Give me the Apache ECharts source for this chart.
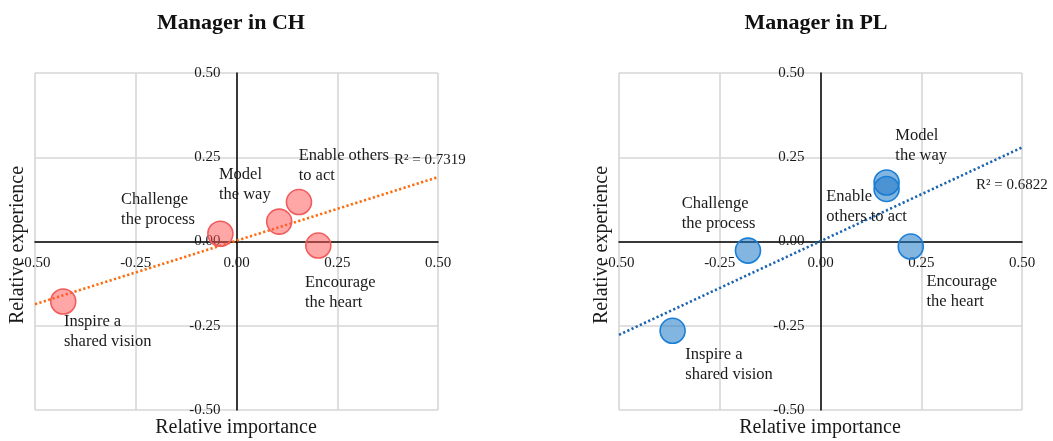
<!DOCTYPE html>
<html>
<head>
<meta charset="utf-8">
<script src="https://cdn.jsdelivr.net/npm/echarts@6/dist/echarts.min.js"></script>
<style>
  html, body { margin: 0; padding: 0; background: #fff; }
  #graph { width: 1053px; height: 441px; }
</style>
</head>
<body>
<div id="graph"></div>
<script>
// leadership practices
var practices = ['Challenge the process', 'Model the way', 'Enable others to act', 'Encourage the heart', 'Inspire a shared vision'];

// Manager in CH: [relative importance, relative experience]
var importanceCH = [-0.04, 0.106, 0.155, 0.203, -0.43];
var experienceCH = [0.023, 0.059, 0.117, -0.012, -0.178];
var trendCH = [[-0.5, -0.186], [0.5, 0.191]];
var r2CH = 'R² = 0.7319';

// Manager in PL
var importancePL = [-0.18, 0.164, 0.164, 0.224, -0.367];
var experiencePL = [-0.027, 0.175, 0.156, -0.015, -0.265];
var trendPL = [[-0.5, -0.277], [0.5, 0.279]];
var r2PL = 'R² = 0.6822';

// label texts (two lines) and offsets, per chart
var labelText = {
    'Challenge the process': 'Challenge\nthe process',
    'Model the way': 'Model\nthe way',
    'Enable others to act': 'Enable others\nto act',
    'Encourage the heart': 'Encourage\nthe heart',
    'Inspire a shared vision': 'Inspire a\nshared vision'
};
var labelTextPL = {
    'Enable others to act': 'Enable\nothers to act'
};
var labelPosCH = [[-86, -31], [-47, -44], [13, -43], [0, 40], [14, 23]];
var labelPosPL = [[-53, -44], [22, -44], [-47, 11], [29, 38], [26, 27]];

var serif = '"Liberation Serif", "DejaVu Serif", serif';
var gridW = 403, gridH = 337;

var dom = document.getElementById('graph');
var chart = echarts.init(dom);

// axes sit in the middle of the plot (crossing at 0)
function xAxis(idx) {
    return {
        type: 'value', gridIndex: idx, min: -0.5, max: 0.5, interval: 0.25,
        offset: -gridH / 2,
        axisLine: { onZero: false, lineStyle: { color: '#000', width: 1.5 } },
        axisTick: { show: false },
        splitLine: { lineStyle: { color: '#d6d6d6', width: 1.6 } },
        axisLabel: {
            margin: 14, fontFamily: serif, fontSize: 15, color: '#1a1a1a',
            showMinLabel: true, showMaxLabel: true,
            formatter: function (v) { return v.toFixed(2); }
        }
    };
}
function yAxis(idx) {
    return {
        type: 'value', gridIndex: idx, min: -0.5, max: 0.5, interval: 0.25,
        offset: -gridW / 2,
        axisLine: { onZero: false, lineStyle: { color: '#000', width: 1.5 } },
        axisTick: { show: false },
        splitLine: { lineStyle: { color: '#d6d6d6', width: 1.6 } },
        axisLabel: {
            margin: 16, fontFamily: serif, fontSize: 15, color: '#1a1a1a',
            showMinLabel: true, showMaxLabel: true,
            formatter: function (v) { return v.toFixed(2); }
        }
    };
}

function points(xs, ys, pos, override) {
    return practices.map(function (name, i) {
        return {
            name: name,
            value: [xs[i], ys[i]],
            label: {
                show: true,
                formatter: (override && override[name]) || labelText[name],
                position: pos[i],
                align: 'left',
                verticalAlign: 'top',
                fontFamily: serif,
                fontSize: 16.5,
                lineHeight: 20,
                color: '#1a1a1a'
            }
        };
    });
}

function trend(idx, data, color, text, offset) {
    return {
        type: 'line',
        xAxisIndex: idx, yAxisIndex: idx,
        data: data,
        showSymbol: false,
        silent: true,
        z: 1,
        lineStyle: { color: color, width: 2.6, type: [2.2, 2.4] },
        endLabel: {
            show: true,
            formatter: text,
            distance: 0,
            offset: offset,
            align: 'left',
            verticalAlign: 'middle',
            fontFamily: serif,
            fontSize: 15,
            color: '#1a1a1a'
        }
    };
}

var nameFont = '20px ' + serif;

chart.setOption({
    animation: false,
    title: [
        { text: 'Manager in CH', left: 226, top: 7, textAlign: 'center',
          textStyle: { fontFamily: serif, fontSize: 22, fontWeight: 'bold', color: '#111' } },
        { text: 'Manager in PL', left: 811, top: 7, textAlign: 'center',
          textStyle: { fontFamily: serif, fontSize: 22, fontWeight: 'bold', color: '#111' } }
    ],
    grid: [
        { left: 35, top: 73, width: gridW, height: gridH, outerBoundsMode: 'none', containLabel: false },
        { left: 619, top: 73, width: gridW, height: gridH, outerBoundsMode: 'none', containLabel: false }
    ],
    xAxis: [xAxis(0), xAxis(1)],
    yAxis: [yAxis(0), yAxis(1)],
    graphic: [
        { type: 'text', x: 236, y: 428, style: { text: 'Relative importance', font: nameFont, fill: '#1a1a1a', textAlign: 'center', textVerticalAlign: 'middle' } },
        { type: 'text', x: 820, y: 428, style: { text: 'Relative importance', font: nameFont, fill: '#1a1a1a', textAlign: 'center', textVerticalAlign: 'middle' } },
        { type: 'text', x: 18, y: 245, rotation: Math.PI / 2, style: { text: 'Relative experience', font: nameFont, fill: '#1a1a1a', textAlign: 'center', textVerticalAlign: 'middle' } },
        { type: 'text', x: 602, y: 245, rotation: Math.PI / 2, style: { text: 'Relative experience', font: nameFont, fill: '#1a1a1a', textAlign: 'center', textVerticalAlign: 'middle' } }
    ],
    series: [
        trend(0, trendCH, '#ff6a0a', r2CH, [-44, -17]),
        trend(1, trendPL, '#1a64b0', r2PL, [-46, 38]),
        {
            type: 'scatter', xAxisIndex: 0, yAxisIndex: 0, symbolSize: 25, z: 3,
            itemStyle: { color: 'rgba(255,80,80,0.5)', borderColor: '#f25c5c', borderWidth: 1.6, opacity: 1 },
            data: points(importanceCH, experienceCH, labelPosCH, null)
        },
        {
            type: 'scatter', xAxisIndex: 1, yAxisIndex: 1, symbolSize: 25, z: 3,
            itemStyle: { color: 'rgba(30,120,200,0.55)', borderColor: '#1a7fd6', borderWidth: 1.6, opacity: 1 },
            data: points(importancePL, experiencePL, labelPosPL, labelTextPL)
        }
    ]
});
</script>
</body>
</html>
